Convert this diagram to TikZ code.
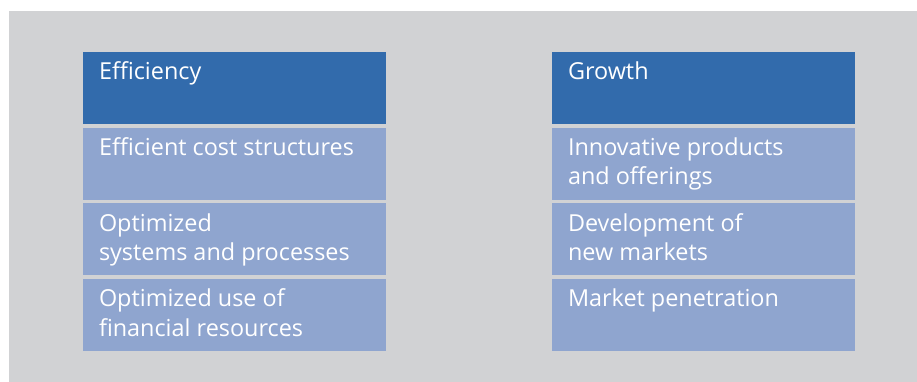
\documentclass[tikz,border=0pt]{standalone}
\usepackage{fontspec}
\setmainfont{Open Sans}
\definecolor{headblue}{RGB}{50,107,172}
\definecolor{cellblue}{RGB}{143,165,207}
\definecolor{panelgray}{RGB}{209,210,212}
\begin{document}
\begin{tikzpicture}[x=1pt, y=-1pt, node distance=75.67pt]
    \tikzstyle{head} = [rectangle, fill=headblue, minimum width=303pt, minimum height=72pt, inner sep=0pt]
    \tikzstyle{cell} = [rectangle, fill=cellblue, minimum width=303pt, minimum height=72pt, inner sep=0pt]
    \tikzstyle{txt} = [anchor=north west, inner sep=0pt, align=left, text=white, font=\fontsize{23.4}{29.5}\selectfont]

    \useasboundingbox (0,0) rectangle (917,382);
    \fill [panelgray] (9,11) rectangle (917,382);

    % Efficiency column
    \node [head] (eff) at (234.5,88) {};
    \node [cell, below of=eff] (eff1) {};
    \node [cell, below of=eff1] (eff2) {};
    \node [cell, below of=eff2] (eff3) {};

    % Growth column
    \node [head, right of=eff, node distance=469pt] (gro) {};
    \node [cell, below of=gro] (gro1) {};
    \node [cell, below of=gro1] (gro2) {};
    \node [cell, below of=gro2] (gro3) {};

    % Texts
    \node [txt] (effT) at ([xshift=16pt,yshift=-10pt]eff.north west) {Efficiency};
    \node [txt] (eff1T) at ([xshift=16pt,yshift=-10pt]eff1.north west) {Efficient cost structures};
    \node [txt] (eff2T) at ([xshift=16pt,yshift=-10pt]eff2.north west) {Optimized\\systems and processes};
    \node [txt] (eff3T) at ([xshift=16pt,yshift=-10pt]eff3.north west) {Optimized use of\\financial resources};
    \node [txt] (groT) at ([xshift=16pt,yshift=-10pt]gro.north west) {Growth};
    \node [txt] (gro1T) at ([xshift=16pt,yshift=-10pt]gro1.north west) {Innovative products\\and offerings};
    \node [txt] (gro2T) at ([xshift=16pt,yshift=-10pt]gro2.north west) {Development of\\new markets};
    \node [txt] (gro3T) at ([xshift=16pt,yshift=-10pt]gro3.north west) {Market penetration};
\end{tikzpicture}
\end{document}
